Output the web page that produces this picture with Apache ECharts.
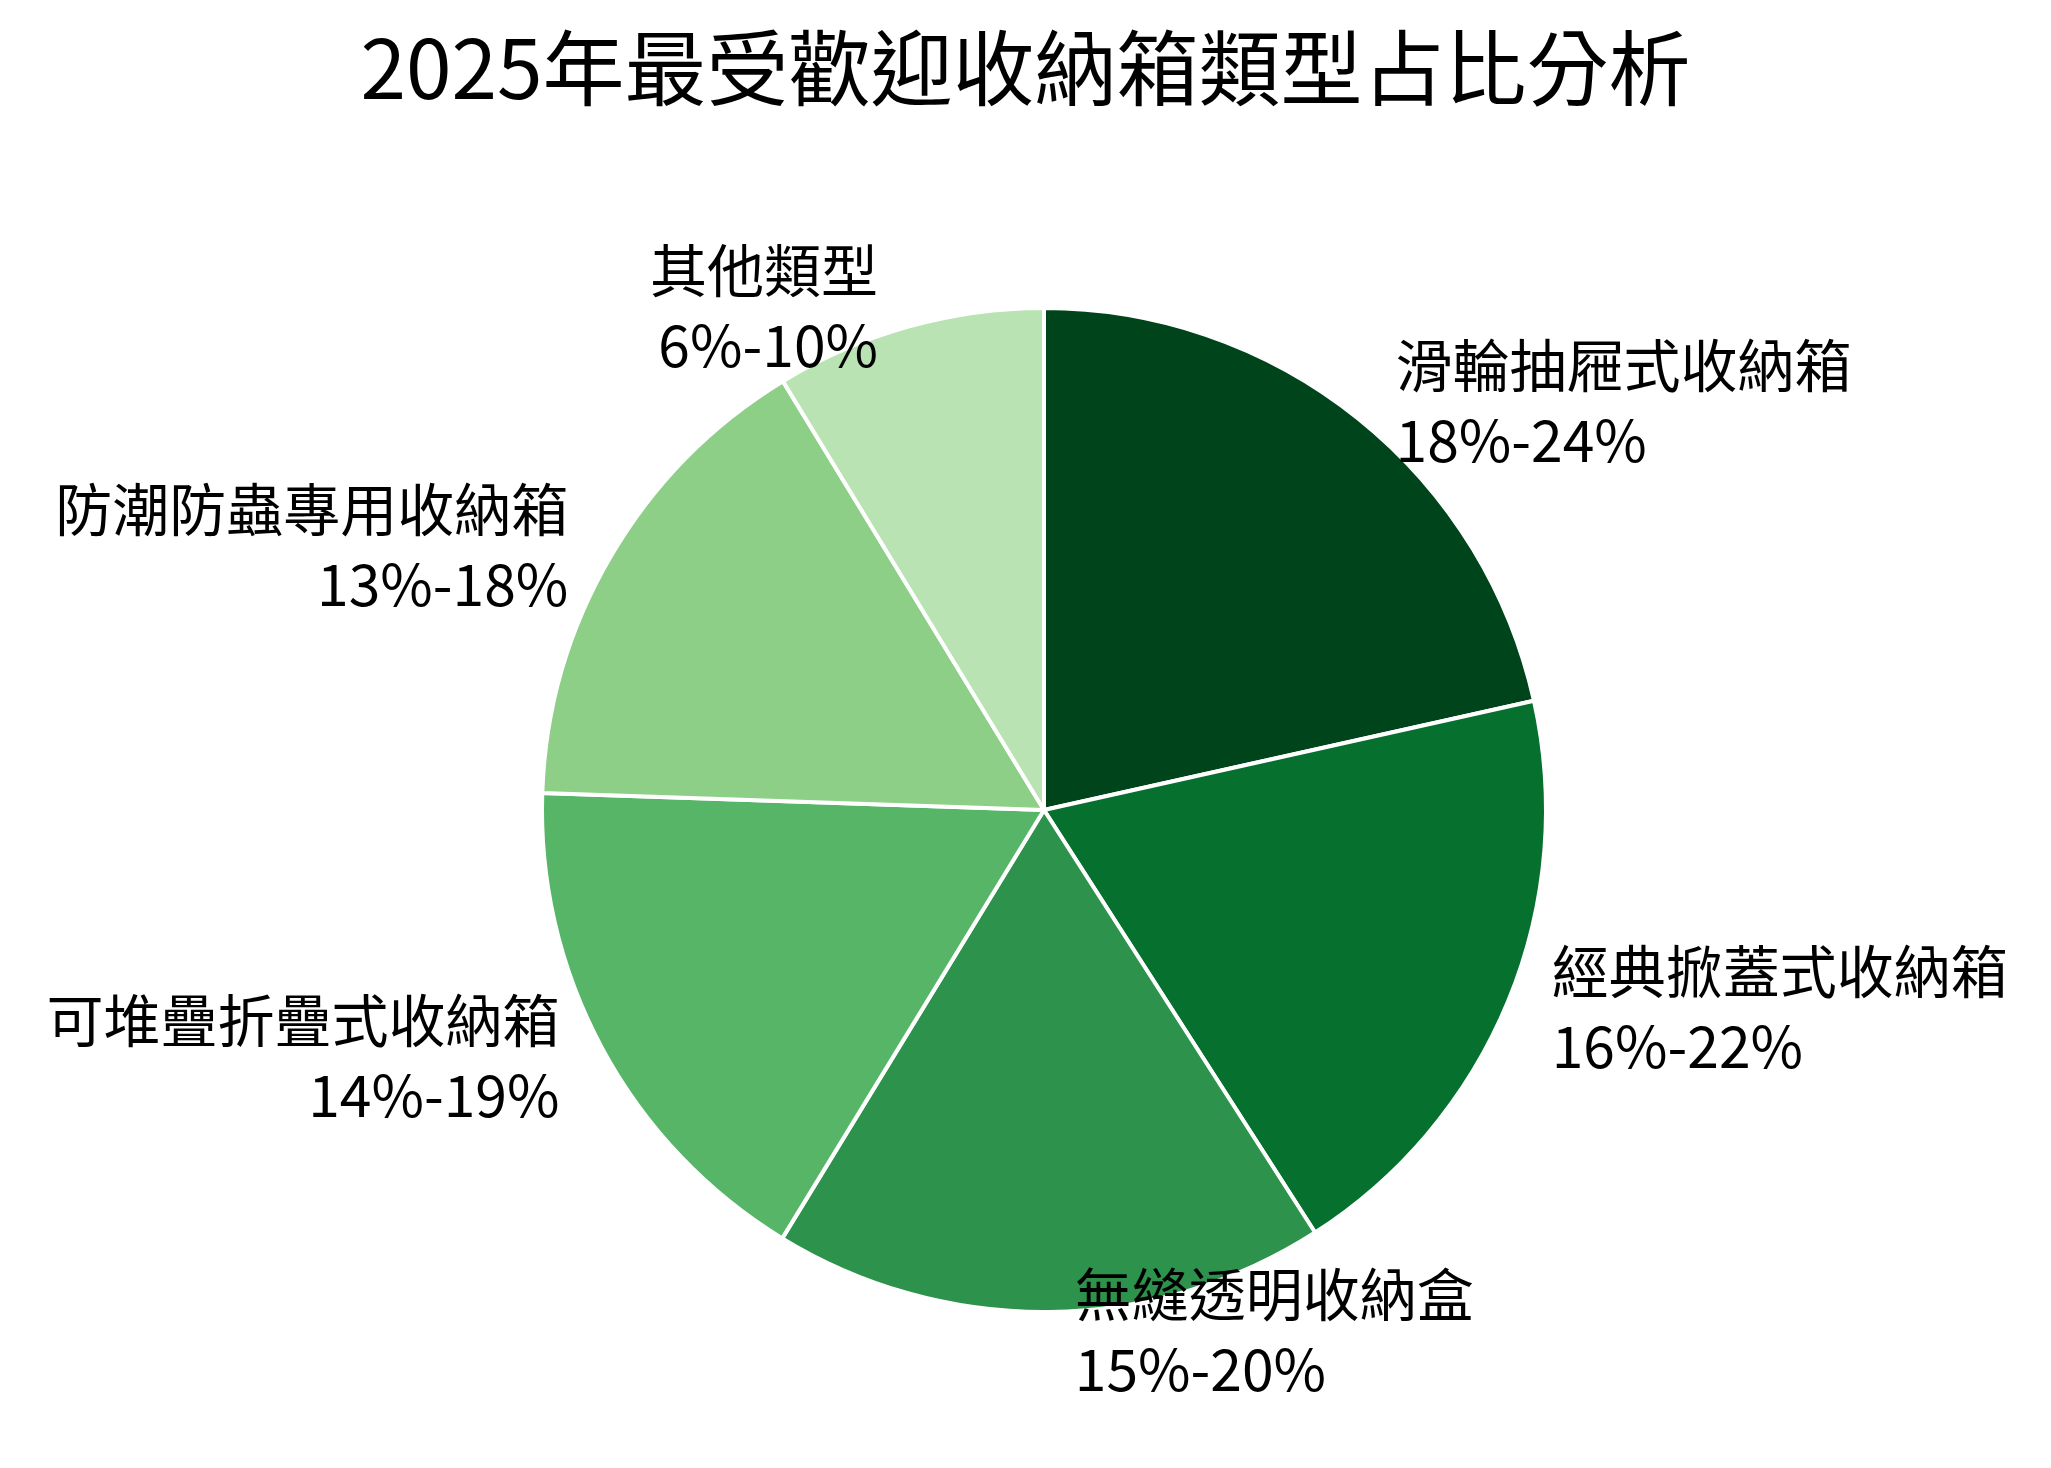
<!DOCTYPE html>
<html><head><meta charset="utf-8">
<script src="https://cdn.jsdelivr.net/npm/echarts@6/dist/echarts.min.js"></script>
<style>html,body{margin:0;padding:0;background:#fff}#c{width:2051px;height:1468px}</style>
</head><body><div id="c"></div>
<script>
var categories = ['滑輪抽屜式收納箱', '經典掀蓋式收納箱', '無縫透明收納盒', '可堆疊折疊式收納箱', '防潮防蟲專用收納箱', '其他類型'];
var ranges = ['18%-24%', '16%-22%', '15%-20%', '14%-19%', '13%-18%', '6%-10%'];
var values = [21.5, 19.4, 17.8, 16.8, 15.75, 8.7];
var colors = ['#00441b', '#06702f', '#2d924b', '#56b567', '#8ecf87', '#b9e3b2'];

var chart = echarts.init(document.getElementById('c'));
var data = categories.map(function(n, i) {
  return { name: n, value: values[i], range: ranges[i], itemStyle: { color: colors[i] } };
});
chart.setOption({
  animation: false,
  title: {
    text: '2025年最受歡迎收納箱類型占比分析',
    left: 'center', top: 22,
    textStyle: { fontSize: 82, fontWeight: 'normal', color: '#000', fontFamily: 'Noto Sans CJK TC' }
  },
  series: [{
    type: 'pie',
    center: [1044, 810],
    radius: [0, 502],
    startAngle: 90,
    clockwise: true,
    data: data,
    itemStyle: { borderColor: '#fff', borderWidth: 4 },
    label: {
      show: true, position: 'outside',
      formatter: function(p) { return p.name + '\n' + p.data.range; },
      fontSize: 57, lineHeight: 75, color: '#000', fontFamily: 'Noto Sans CJK TC'
    },
    labelLine: { show: false, length: 20, length2: 20 }
  }]
});
</script></body></html>
